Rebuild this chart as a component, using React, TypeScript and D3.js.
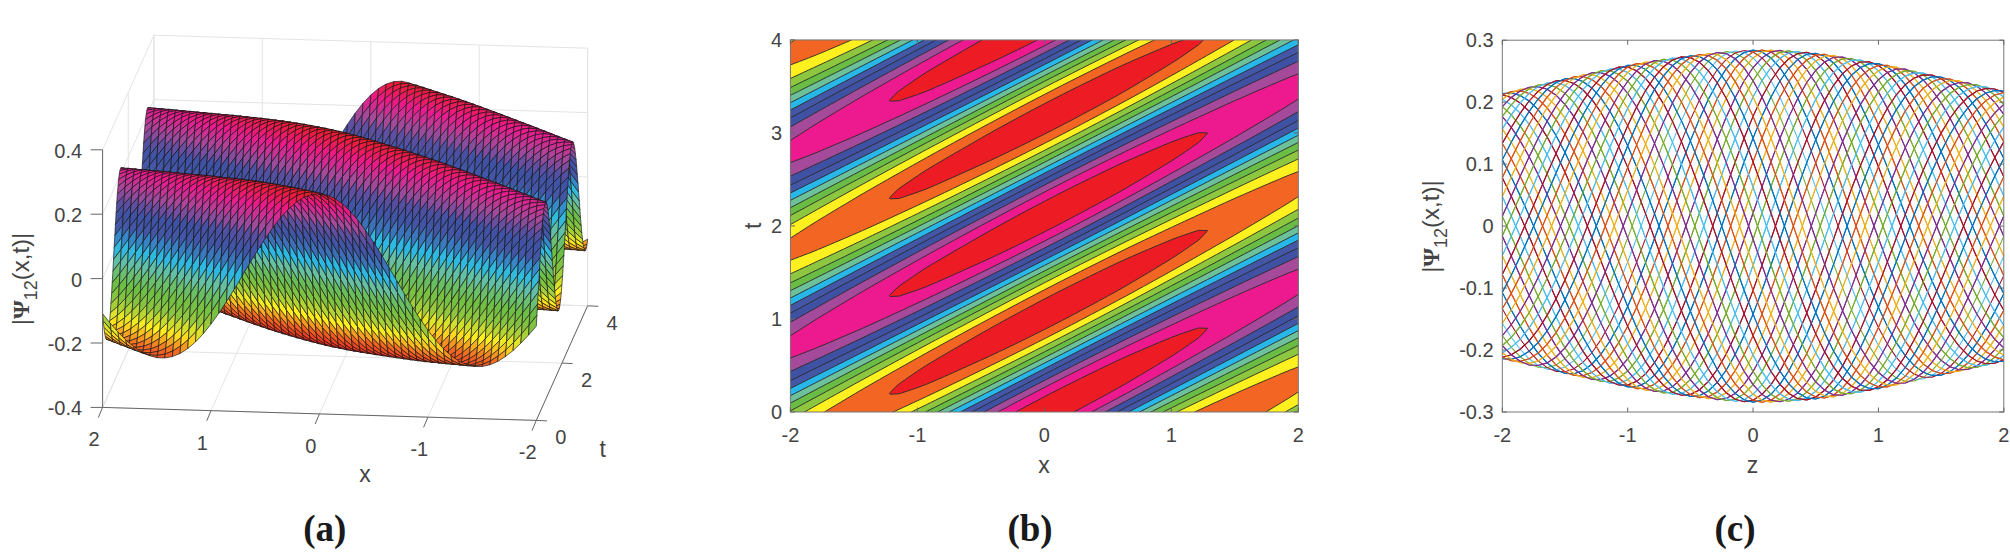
import React, { useMemo } from "react";
import * as d3 from "d3";

// ---- data ----
// crest height of the wave at each of the 57 x stations, x = -2 .. 2 in steps of 1/14 (outline of panel c)
const envelope = [
  0.214, 0.2172, 0.2206, 0.2241, 0.2276, 0.231, 0.2344, 0.2378, 0.241, 0.2442, 0.2474, 0.2505,
  0.2535, 0.2565, 0.2595, 0.2622, 0.2647, 0.267, 0.2691, 0.2711, 0.273, 0.275, 0.2768, 0.2785,
  0.2801, 0.2815, 0.2826, 0.2834, 0.284, 0.2842, 0.284, 0.2835, 0.2827, 0.2816, 0.2804, 0.279,
  0.2773, 0.2755, 0.273, 0.2705, 0.2679, 0.2651, 0.2622, 0.2595, 0.2565, 0.2533, 0.25, 0.2468,
  0.2437, 0.2406, 0.2375, 0.2344, 0.2312, 0.228, 0.2247, 0.2213, 0.218,
];
// one full period of the wave profile over 2.1 time units, in steps of t = 0.05, relative to crest height
const crestProfile = [
  1, 0.9888, 0.9556, 0.901, 0.8262, 0.7331, 0.6235, 0.5, 0.3653, 0.2225, 0.0747, -0.0747, -0.2225,
  -0.3653, -0.5, -0.6235, -0.7331, -0.8262, -0.901, -0.9556, -0.9888, -1, -0.9888, -0.9556, -0.901,
  -0.8262, -0.7331, -0.6235, -0.5, -0.3653, -0.2225, -0.0747, 0.0747, 0.2225, 0.3653, 0.5, 0.6235,
  0.7331, 0.8262, 0.901, 0.9556, 0.9888,
];
const timeRowCount = 81; // t = 0 .. 4 in steps of 0.05
const centerStation = 28; // x = 0
const contourLevels = [-0.25, -0.2, -0.15, -0.1, -0.05, 0, 0.05, 0.1, 0.15, 0.2, 0.25];
const bandColors = [
  "#ed1c24", "#f26522", "#fff01f", "#8dc63f", "#69bd45", "#6cc19a",
  "#27b7e9", "#4457a7", "#3f51a3", "#a54a9b", "#ec1a8e", "#ed1c24",
];
const surfaceStops = [-0.285, -0.225, -0.175, -0.125, -0.075, -0.025, 0.025, 0.075, 0.125, 0.175, 0.225, 0.285];
const lineColors = ["#0072BD", "#D95319", "#EDB120", "#7E2F8E", "#77AC30", "#4DBEEE", "#A2142F"];
const xTicks = [-2, -1, 0, 1, 2];
const tTicks3d = [0, 2, 4];
const zTicks3d = [-0.4, -0.2, 0, 0.2, 0.4];
const tTicks2d = [0, 1, 2, 3, 4];
const yTicksC = [-0.3, -0.2, -0.1, 0, 0.1, 0.2, 0.3];

// field lookup: stations and rows of the tables above
const stationX = (i: number) => -2 + i / 14;
const rowT = (j: number) => j * 0.05;
const psi = (i: number, j: number) => {
  const n = crestProfile.length;
  return envelope[i] * crestProfile[(((j - (i - centerStation)) % n) + n) % n];
};

const INK = "#444444";
const AXIS = "#666666";
const FONT = "'Liberation Sans', Arial, sans-serif";
const SERIF = "'Liberation Serif', 'Times New Roman', serif";
const TICK = 20;
const LABEL = 23;

function PsiLabel({ x, y }: { x: number; y: number }) {
  return (
    <text transform={`translate(${x},${y}) rotate(-90)`} textAnchor="middle" fontFamily={FONT} fontSize={24} fill={INK}>
      |<tspan fontFamily={SERIF} fontWeight="bold">Ψ</tspan>
      <tspan dy={8} fontSize={18}>12</tspan>
      <tspan dy={-8}>(x,t)|</tspan>
    </text>
  );
}

function Surface3D() {
  const ox = 102.6, oy = 407.4;
  const xx = d3.scaleLinear().domain([2, -2]).range([0, 433.7]);
  const xy = d3.scaleLinear().domain([2, -2]).range([0, 13]);
  const tx = d3.scaleLinear().domain([0, 4]).range([0, 51.3]);
  const ty = d3.scaleLinear().domain([0, 4]).range([0, -114.6]);
  const zy = d3.scaleLinear().domain([-0.4, 0.4]).range([0, -257.6]);
  const P = (x: number, t: number, z: number): [number, number] => [ox + xx(x) + tx(t), oy + xy(x) + ty(t) + zy(z)];
  const color = d3.scaleLinear<string>().domain(surfaceStops).range(bandColors).clamp(true);
  const seg = (a: [number, number], b: [number, number], stroke: string, key: string, w = 1) => (
    <line key={key} x1={a[0]} y1={a[1]} x2={b[0]} y2={b[1]} stroke={stroke} strokeWidth={w} />
  );
  const quads = useMemo(() => {
    const out: { d: string; fill: string }[] = [];
    // far to near: t falling, then x falling
    for (let j = timeRowCount - 2; j >= 0; j--) {
      for (let i = 0; i < envelope.length - 1; i++) {
        const a = envelope.length - 1 - i;
        const b = a - 1;
        const corners = [[a, j], [b, j], [b, j + 1], [a, j + 1]];
        const pts = corners.map(([ci, cj]) => P(stationX(ci), rowT(cj), psi(ci, cj)));
        const mean = d3.mean(corners, ([ci, cj]) => psi(ci, cj)) as number;
        out.push({ d: "M" + pts.map((p) => p[0].toFixed(1) + "," + p[1].toFixed(1)).join("L") + "Z", fill: color(mean) });
      }
    }
    return out;
  }, []);
  const grid = "#e4e4e4";
  return (
    <g>
      {zTicks3d.map((z) => seg(P(2, 0, z), P(2, 4, z), grid, "gl" + z))}
      {zTicks3d.map((z) => seg(P(2, 4, z), P(-2, 4, z), grid, "gb" + z))}
      {xTicks.map((x) => seg(P(x, 4, -0.4), P(x, 4, 0.4), grid, "gv" + x))}
      {xTicks.map((x) => seg(P(x, 0, -0.4), P(x, 4, -0.4), grid, "gf" + x))}
      {tTicks3d.map((t) => seg(P(2, t, -0.4), P(-2, t, -0.4), grid, "gt" + t))}
      {tTicks3d.map((t) => seg(P(2, t, -0.4), P(2, t, 0.4), grid, "gw" + t))}
      {seg(P(-2, 4, -0.4), P(-2, 4, 0.4), grid, "ge")}
      {quads.map((q, k) => (
        <path key={k} d={q.d} fill={q.fill} stroke="#151515" strokeWidth={0.65} strokeLinejoin="round" />
      ))}
      {seg(P(2, 0, -0.4), P(2, 0, 0.4), AXIS, "az")}
      {seg(P(2, 0, -0.4), P(-2, 0, -0.4), AXIS, "ax")}
      {seg(P(-2, 0, -0.4), P(-2, 4, -0.4), AXIS, "at")}
      {zTicks3d.map((z) => {
        const p = P(2, 0, z);
        return (
          <g key={z}>
            <line x1={p[0] - 12} y1={p[1]} x2={p[0]} y2={p[1]} stroke={AXIS} />
            <text x={p[0] - 20.5} y={p[1] + 8} textAnchor="end" fontFamily={FONT} fontSize={TICK} fill={INK}>{z === 0 ? "0" : z}</text>
          </g>
        );
      })}
      {[2, 1, 0, -1, -2].map((x) => {
        const p = P(x, 0, -0.4);
        return (
          <g key={x}>
            <line x1={p[0]} y1={p[1]} x2={p[0] - 4.3} y2={p[1] + 10.2} stroke={AXIS} />
            <text x={p[0] - 8.6} y={p[1] + 39} textAnchor="middle" fontFamily={FONT} fontSize={TICK} fill={INK}>{x}</text>
          </g>
        );
      })}
      {tTicks3d.map((t) => {
        const p = P(-2, t, -0.4);
        return (
          <g key={t}>
            <line x1={p[0]} y1={p[1]} x2={p[0] + 10.7} y2={p[1] + 0.5} stroke={AXIS} />
            <text x={p[0] + 24.5} y={p[1] + 24} textAnchor="middle" fontFamily={FONT} fontSize={TICK} fill={INK}>{t}</text>
          </g>
        );
      })}
      <text x={365} y={482} textAnchor="middle" fontFamily={FONT} fontSize={LABEL} fill={INK}>x</text>
      <text x={602.6} y={457} textAnchor="middle" fontFamily={FONT} fontSize={LABEL} fill={INK}>t</text>
      <PsiLabel x={29} y={279} />
    </g>
  );
}

function frameTicks(
  x: d3.ScaleLinear<number, number>,
  y: d3.ScaleLinear<number, number>,
  xs: number[],
  ys: number[],
  yLabelX: number
) {
  const [l, r] = x.range();
  const [b, t] = y.range();
  return (
    <g>
      <rect x={l} y={t} width={r - l} height={b - t} fill="none" stroke="#777" strokeWidth={1} />
      {xs.map((v) => (
        <g key={"x" + v}>
          <line x1={x(v)} x2={x(v)} y1={b} y2={b - 4.5} stroke="#666" />
          <line x1={x(v)} x2={x(v)} y1={t} y2={t + 4.5} stroke="#666" />
          <text x={x(v)} y={b + 29.5} textAnchor="middle" fontFamily={FONT} fontSize={TICK} fill={INK}>{v}</text>
        </g>
      ))}
      {ys.map((v) => (
        <g key={"y" + v}>
          <line x1={l} x2={l + 4.5} y1={y(v)} y2={y(v)} stroke="#666" />
          <line x1={r} x2={r - 4.5} y1={y(v)} y2={y(v)} stroke="#666" />
          <text x={yLabelX} y={y(v) + 7} textAnchor="end" fontFamily={FONT} fontSize={TICK} fill={INK}>{v}</text>
        </g>
      ))}
    </g>
  );
}

function ContourPanel() {
  const x = d3.scaleLinear().domain([-2, 2]).range([790.4, 1298.3]);
  const y = d3.scaleLinear().domain([0, 4]).range([412, 39.9]);
  const nx = envelope.length;
  const ny = timeRowCount;
  const bands = useMemo(() => {
    const values: number[] = [];
    for (let j = 0; j < ny; j++) for (let i = 0; i < nx; i++) values.push(psi(i, j));
    return d3.contours().size([nx, ny]).smooth(true).thresholds(contourLevels)(values);
  }, []);
  const gx = d3.scaleLinear().domain([0.5, nx - 0.5]).range(x.range());
  const gy = d3.scaleLinear().domain([0.5, ny - 0.5]).range(y.range());
  const path = d3.geoPath(
    d3.geoTransform({
      point(px: number, py: number) {
        (this as any).stream.point(gx(px), gy(py));
      },
    })
  );
  return (
    <g>
      <defs>
        <clipPath id="clipB">
          <rect x={790.4} y={39.9} width={507.9} height={372.1} />
        </clipPath>
      </defs>
      <g clipPath="url(#clipB)">
        <rect x={790.4} y={39.9} width={507.9} height={372.1} fill={bandColors[0]} />
        {bands.map((b, k) => (
          <path key={k} d={path(b as any) || ""} fill={bandColors[k + 1]} stroke="#2a2a2a" strokeWidth={0.9} />
        ))}
      </g>
      {frameTicks(x, y, xTicks, tTicks2d, 782)}
      <text x={1044} y={473} textAnchor="middle" fontFamily={FONT} fontSize={LABEL} fill={INK}>x</text>
      <text transform="translate(761,225.7) rotate(-90)" textAnchor="middle" fontFamily={FONT} fontSize={LABEL} fill={INK}>t</text>
    </g>
  );
}

function LinesPanel() {
  const x = d3.scaleLinear().domain([-2, 2]).range([1502.3, 2003.8]);
  const y = d3.scaleLinear().domain([-0.3, 0.3]).range([412, 40.2]);
  const rows = d3.range(0, timeRowCount);
  const stations = d3.range(envelope.length);
  return (
    <g>
      <defs>
        <clipPath id="clipC">
          <rect x={1502.3} y={40.2} width={501.5} height={371.8} />
        </clipPath>
      </defs>
      <g clipPath="url(#clipC)">
        {rows.map((j) => {
          const line = d3
            .line<number>()
            .x((i) => x(stationX(i)))
            .y((i) => y(psi(i, j)));
          return (
            <path
              key={j}
              d={line(stations) || ""}
              fill="none"
              stroke={lineColors[j % lineColors.length]}
              strokeWidth={1.1}
            />
          );
        })}
      </g>
      {frameTicks(x, y, xTicks, yTicksC, 1493.6)}
      <text x={1752.5} y={473} textAnchor="middle" fontFamily={FONT} fontSize={LABEL} fill={INK}>z</text>
      <PsiLabel x={1439} y={226.6} />
    </g>
  );
}

export default function App() {
  const caption = (s: string, cx: number) => (
    <text x={cx} y={541} textAnchor="middle" fontFamily={SERIF} fontWeight="bold" fontSize={37} fill="#1a1a1a">{s}</text>
  );
  return (
    <svg width={2010} height={553} style={{ position: "absolute", left: 0, top: 0, background: "#fff" }}>
      <Surface3D />
      <ContourPanel />
      <LinesPanel />
      {caption("(a)", 324.8)}
      {caption("(b)", 1030)}
      {caption("(c)", 1735)}
    </svg>
  );
}
